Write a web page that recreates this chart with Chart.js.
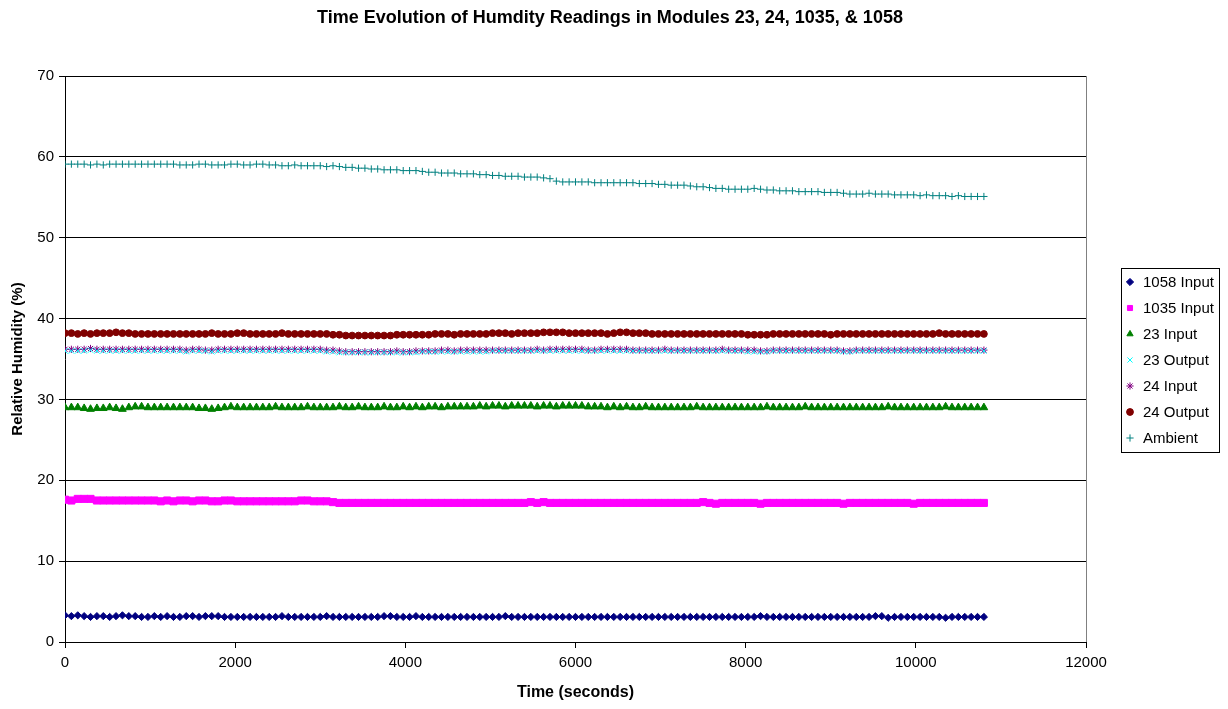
<!DOCTYPE html>
<html><head><meta charset="utf-8">
<script src="https://cdn.jsdelivr.net/npm/chart.js@4/dist/chart.umd.min.js"></script>
<style>html,body{margin:0;padding:0;background:#fff}#wrap{width:1228px;height:709px;position:relative}</style>
</head><body><div id="wrap"><canvas id="c" width="1228" height="709"></canvas></div>
<script>
const chartTitle = "Time Evolution of Humdity Readings in Modules 23, 24, 1035, & 1058";
const xAxisTitle = "Time (seconds)";
const yAxisTitle = "Relative Humidity (%)";
const seriesNames = ["1058 Input", "1035 Input", "23 Input", "23 Output", "24 Input", "24 Output", "Ambient"];
const xTickValues = [0, 2000, 4000, 6000, 8000, 10000, 12000];
const yTickValues = [0, 10, 20, 30, 40, 50, 60, 70];

const times = [
 0,75,150,225,300,375,450,525,600,675,750,825,900,975,1050,1125,
 1200,1275,1350,1425,1500,1575,1650,1725,1800,1875,1950,2025,2100,2175,2250,2325,
 2400,2475,2550,2625,2700,2775,2850,2925,3000,3075,3150,3225,3300,3375,3450,3525,
 3600,3675,3750,3825,3900,3975,4050,4125,4200,4275,4350,4425,4500,4575,4650,4725,
 4800,4875,4950,5025,5100,5175,5250,5325,5400,5475,5550,5625,5700,5775,5850,5925,
 6000,6075,6150,6225,6300,6375,6450,6525,6600,6675,6750,6825,6900,6975,7050,7125,
 7200,7275,7350,7425,7500,7575,7650,7725,7800,7875,7950,8025,8100,8175,8250,8325,
 8400,8475,8550,8625,8700,8775,8850,8925,9000,9075,9150,9225,9300,9375,9450,9525,
 9600,9675,9750,9825,9900,9975,10050,10125,10200,10275,10350,10425,10500,10575,10650,10725,
 10800];

const input1058 = [
 3.3,3.2,3.3,3.2,3.1,3.2,3.2,3.1,3.2,3.3,3.2,3.2,3.1,3.1,3.2,3.1,
 3.2,3.1,3.1,3.2,3.2,3.1,3.2,3.2,3.2,3.1,3.1,3.1,3.1,3.1,3.1,3.1,
 3.1,3.1,3.2,3.1,3.1,3.1,3.1,3.1,3.1,3.2,3.1,3.1,3.1,3.1,3.1,3.1,
 3.1,3.1,3.2,3.2,3.1,3.1,3.1,3.2,3.1,3.1,3.1,3.1,3.1,3.1,3.1,3.1,
 3.1,3.1,3.1,3.1,3.1,3.2,3.1,3.1,3.1,3.1,3.1,3.1,3.1,3.1,3.1,3.1,
 3.1,3.1,3.1,3.1,3.1,3.1,3.1,3.1,3.1,3.1,3.1,3.1,3.1,3.1,3.1,3.1,
 3.1,3.1,3.1,3.1,3.1,3.1,3.1,3.1,3.1,3.1,3.1,3.1,3.1,3.2,3.1,3.1,
 3.1,3.1,3.1,3.1,3.1,3.1,3.1,3.1,3.1,3.1,3.1,3.1,3.1,3.1,3.1,3.2,
 3.2,3.0,3.1,3.1,3.1,3.1,3.1,3.1,3.1,3.1,3.0,3.1,3.1,3.1,3.1,3.1,
 3.1];

const input1035 = [
 17.6,17.5,17.7,17.7,17.7,17.5,17.5,17.5,17.5,17.5,17.5,17.5,17.5,17.5,17.5,17.4,
 17.5,17.4,17.5,17.5,17.4,17.5,17.5,17.4,17.4,17.5,17.5,17.4,17.4,17.4,17.4,17.4,
 17.4,17.4,17.4,17.4,17.4,17.5,17.5,17.4,17.4,17.4,17.3,17.2,17.2,17.2,17.2,17.2,
 17.2,17.2,17.2,17.2,17.2,17.2,17.2,17.2,17.2,17.2,17.2,17.2,17.2,17.2,17.2,17.2,
 17.2,17.2,17.2,17.2,17.2,17.2,17.2,17.2,17.2,17.3,17.2,17.3,17.2,17.2,17.2,17.2,
 17.2,17.2,17.2,17.2,17.2,17.2,17.2,17.2,17.2,17.2,17.2,17.2,17.2,17.2,17.2,17.2,
 17.2,17.2,17.2,17.2,17.3,17.2,17.1,17.2,17.2,17.2,17.2,17.2,17.2,17.1,17.2,17.2,
 17.2,17.2,17.2,17.2,17.2,17.2,17.2,17.2,17.2,17.2,17.1,17.2,17.2,17.2,17.2,17.2,
 17.2,17.2,17.2,17.2,17.2,17.1,17.2,17.2,17.2,17.2,17.2,17.2,17.2,17.2,17.2,17.2,
 17.2];

const input23 = [
 29.0,29.0,29.0,28.9,28.8,28.9,28.9,29.0,28.9,28.8,29.0,29.1,29.1,29.0,29.0,29.0,
 29.0,29.0,29.0,29.0,29.0,28.9,28.9,28.8,28.9,29.0,29.1,29.0,29.0,29.0,29.0,29.0,
 29.0,29.1,29.0,29.0,29.0,29.0,29.1,29.0,29.0,29.0,29.0,29.1,29.0,29.0,29.1,29.0,
 29.0,29.0,29.1,29.0,29.0,29.1,29.0,29.1,29.0,29.1,29.1,29.0,29.1,29.1,29.1,29.1,
 29.1,29.2,29.1,29.2,29.2,29.1,29.2,29.2,29.2,29.2,29.1,29.2,29.2,29.1,29.2,29.2,
 29.2,29.2,29.1,29.1,29.1,29.0,29.1,29.0,29.1,29.0,29.0,29.1,29.0,29.0,29.0,29.0,
 29.0,29.0,29.0,29.1,29.0,29.0,29.0,29.0,29.0,29.0,29.0,29.0,29.0,29.0,29.1,29.0,
 29.0,29.0,29.0,29.0,29.1,29.0,29.0,29.0,29.0,29.0,29.0,29.0,29.0,29.0,29.0,29.0,
 29.0,29.1,29.0,29.0,29.0,29.0,29.0,29.0,29.0,29.0,29.1,29.0,29.0,29.0,29.0,29.0,
 29.0];

const output23 = [
 36.0,36.0,36.0,36.0,36.1,36.0,36.0,36.0,36.0,36.0,36.0,36.0,36.0,36.0,36.0,36.0,
 36.0,36.0,36.0,35.9,36.0,36.0,36.0,35.9,36.0,36.0,36.0,36.0,36.0,36.0,36.0,36.0,
 36.0,36.0,36.0,36.0,36.0,36.0,36.0,36.0,36.0,35.9,35.9,35.8,35.8,35.8,35.8,35.8,
 35.8,35.8,35.8,35.8,35.8,35.8,35.8,35.8,35.9,35.9,35.9,35.9,35.9,35.9,35.9,35.9,
 35.9,35.9,35.9,36.0,36.0,36.0,36.0,36.0,36.0,36.0,36.0,36.0,36.0,36.0,36.0,36.0,
 36.0,36.0,36.0,36.0,36.0,36.0,36.0,36.0,36.0,36.0,36.0,36.0,36.0,36.0,36.0,36.0,
 36.0,36.0,36.0,36.0,36.0,36.0,36.0,36.0,36.0,36.0,36.0,35.9,35.9,35.9,35.9,36.0,
 36.0,36.0,36.0,36.0,36.0,36.0,36.0,36.0,36.0,36.0,35.9,35.9,36.0,36.0,36.0,36.0,
 36.0,36.0,36.0,36.0,36.0,36.0,36.0,36.0,36.0,36.0,36.0,36.0,36.0,36.0,36.0,36.0,
 36.0];

const input24 = [
 36.2,36.2,36.2,36.2,36.3,36.2,36.2,36.2,36.2,36.2,36.2,36.2,36.2,36.2,36.2,36.2,
 36.2,36.2,36.2,36.1,36.2,36.2,36.1,36.1,36.2,36.2,36.2,36.2,36.2,36.2,36.2,36.2,
 36.2,36.2,36.2,36.2,36.2,36.2,36.2,36.2,36.2,36.1,36.1,36.0,35.9,35.9,35.9,35.9,
 35.9,35.9,35.9,35.9,36.0,35.9,35.9,36.0,36.0,36.0,36.0,36.1,36.1,36.0,36.1,36.1,
 36.1,36.1,36.1,36.1,36.1,36.1,36.1,36.1,36.1,36.1,36.2,36.1,36.2,36.2,36.2,36.2,
 36.2,36.2,36.1,36.1,36.2,36.2,36.2,36.2,36.2,36.1,36.1,36.1,36.1,36.1,36.2,36.1,
 36.1,36.1,36.1,36.1,36.1,36.1,36.1,36.2,36.1,36.1,36.1,36.1,36.1,36.0,36.0,36.1,
 36.1,36.1,36.1,36.1,36.1,36.1,36.1,36.1,36.1,36.1,36.0,36.0,36.1,36.1,36.1,36.1,
 36.1,36.1,36.1,36.1,36.1,36.1,36.1,36.1,36.1,36.1,36.1,36.1,36.1,36.1,36.1,36.1,
 36.1];

const output24 = [
 38.2,38.2,38.1,38.2,38.1,38.2,38.2,38.2,38.3,38.2,38.2,38.1,38.1,38.1,38.1,38.1,
 38.1,38.1,38.1,38.1,38.1,38.1,38.1,38.2,38.1,38.1,38.1,38.2,38.2,38.1,38.1,38.1,
 38.1,38.1,38.2,38.1,38.1,38.1,38.1,38.1,38.1,38.1,38.0,38.0,37.9,37.9,37.9,37.9,
 37.9,37.9,37.9,37.9,38.0,38.0,38.0,38.0,38.0,38.0,38.1,38.1,38.1,38.0,38.1,38.1,
 38.1,38.1,38.1,38.2,38.2,38.2,38.1,38.2,38.2,38.2,38.2,38.3,38.3,38.3,38.3,38.2,
 38.2,38.2,38.2,38.2,38.2,38.1,38.2,38.3,38.3,38.2,38.2,38.2,38.1,38.1,38.1,38.1,
 38.1,38.1,38.1,38.1,38.1,38.1,38.1,38.1,38.1,38.1,38.1,38.0,38.0,38.0,38.0,38.1,
 38.1,38.1,38.1,38.1,38.1,38.1,38.1,38.1,38.0,38.1,38.1,38.1,38.1,38.1,38.1,38.1,
 38.1,38.1,38.1,38.1,38.1,38.1,38.1,38.1,38.1,38.2,38.1,38.1,38.1,38.1,38.1,38.1,
 38.1];

const ambient = [
 59.1,59.1,59.1,59.1,59.0,59.1,59.0,59.1,59.1,59.1,59.1,59.1,59.1,59.1,59.1,59.1,
 59.1,59.1,59.0,59.0,59.0,59.1,59.1,59.0,59.0,59.0,59.1,59.1,59.0,59.0,59.1,59.1,
 59.0,59.0,58.9,58.9,59.0,58.9,58.9,58.9,58.9,58.8,58.9,58.8,58.7,58.7,58.6,58.6,
 58.5,58.5,58.4,58.4,58.4,58.3,58.3,58.3,58.2,58.1,58.1,58.0,58.0,58.0,57.9,57.9,
 57.9,57.8,57.8,57.7,57.7,57.6,57.6,57.6,57.5,57.5,57.5,57.4,57.3,57.0,56.9,56.9,
 56.9,56.9,56.9,56.8,56.8,56.8,56.8,56.8,56.8,56.8,56.7,56.7,56.7,56.6,56.6,56.5,
 56.5,56.5,56.4,56.3,56.3,56.2,56.1,56.1,56.0,56.0,56.0,56.0,56.1,56.0,55.9,55.9,
 55.8,55.8,55.8,55.7,55.7,55.7,55.7,55.6,55.6,55.6,55.5,55.4,55.4,55.4,55.5,55.4,
 55.4,55.4,55.3,55.3,55.3,55.3,55.2,55.3,55.2,55.2,55.2,55.1,55.2,55.1,55.1,55.1,
 55.1];

const seriesValues = [input1058, input1035, input23, output23, input24, output24, ambient];
const seriesColors = ["#000080", "#FF00FF", "#008000", "#00FFFF", "#800080", "#800000", "#008080"];
const seriesMarkers = ["rectRot", "rect", "triangle", "crossRot", "star", "circle", "cross"];
const seriesRadius = [3.6, 5, 4.4, 3.8, 3.6, 3.4, 3.6];

const FONT = "'Liberation Sans', Arial, Helvetica, sans-serif";

const datasets = seriesNames.map((name, i) => ({
  label: name,
  data: times.map((t, k) => ({ x: t, y: seriesValues[i][k] })),
  showLine: false,
  pointStyle: seriesMarkers[i],
  pointRadius: seriesRadius[i],
  pointHoverRadius: seriesRadius[i],
  pointBorderWidth: 1,
  pointBackgroundColor: seriesColors[i],
  pointBorderColor: seriesColors[i],
  backgroundColor: seriesColors[i],
  borderColor: seriesColors[i]
}));

const frame = {
  id: 'frame',
  beforeDatasetsDraw(chart) {
    const { ctx, chartArea: a } = chart;
    ctx.save();
    ctx.strokeStyle = '#808080';
    ctx.lineWidth = 1;
    ctx.beginPath();
    ctx.moveTo(Math.round(a.right) + 0.5, a.top);
    ctx.lineTo(Math.round(a.right) + 0.5, a.bottom);
    ctx.stroke();
    ctx.restore();
  }
};

const boxLegend = {
  id: 'boxLegend',
  afterDraw(chart) {
    const { ctx, chartArea: a } = chart;
    const left = a.right + 35, top = 268, w = 98, rowH = 26;
    const n = chart.data.datasets.length;
    const h = n * rowH + 2;
    ctx.save();
    ctx.fillStyle = '#fff';
    ctx.fillRect(left, top, w, h);
    ctx.strokeStyle = '#000';
    ctx.lineWidth = 1;
    ctx.strokeRect(left + 0.5, top + 0.5, w, h);
    ctx.font = "15px " + FONT;
    ctx.textBaseline = 'middle';
    ctx.textAlign = 'left';
    chart.data.datasets.forEach((ds, i) => {
      const cy = top + 14 + i * rowH;
      const cx = left + 9;
      ctx.fillStyle = ds.pointBackgroundColor;
      ctx.strokeStyle = ds.pointBorderColor;
      ctx.lineWidth = 1;
      Chart.helpers.drawPoint(ctx, { pointStyle: ds.pointStyle, radius: Math.min(ds.pointRadius, 3.6), borderWidth: 1, rotation: 0 }, cx, cy);
      ctx.fillStyle = '#000';
      ctx.fillText(ds.label, left + 22, cy + 1);
    });
    ctx.restore();
  }
};

new Chart(document.getElementById('c'), {
  type: 'scatter',
  data: { datasets },
  options: {
    responsive: false,
    animation: false,
    devicePixelRatio: 1,
    layout: { padding: { left: 0, right: 8, top: 0, bottom: 0 } },
    plugins: {
      legend: { display: false },
      tooltip: { enabled: false },
      title: {
        display: true, text: chartTitle, color: '#000',
        font: { family: FONT, size: 18, weight: 'bold' },
        padding: { top: 7, bottom: 47.4 }
      }
    },
    scales: {
      x: {
        type: 'linear', min: 0, max: 12000,
        afterFit: s => { s.height = 67; },
        afterBuildTicks: s => { s.ticks = xTickValues.map(v => ({ value: v })); },
        grid: { display: true, drawOnChartArea: false, drawTicks: true, tickLength: 6, color: '#000' },
        border: { display: true, color: '#000', width: 1 },
        ticks: { color: '#000', font: { family: FONT, size: 15 }, padding: 6, maxRotation: 0, callback: v => String(v) },
        title: { display: true, text: xAxisTitle, color: '#000', font: { family: FONT, size: 16, weight: 'bold' }, padding: { top: 0, bottom: 7 } }
      },
      y: {
        type: 'linear', min: 0, max: 70,
        afterFit: s => { s.width = 65; },
        afterBuildTicks: s => { s.ticks = yTickValues.map(v => ({ value: v })); },
        grid: { display: true, drawOnChartArea: true, drawTicks: true, tickLength: 6, color: '#000' },
        border: { display: true, color: '#000', width: 1 },
        ticks: { color: '#000', font: { family: FONT, size: 15 }, padding: 5, callback: v => String(v) },
        title: { display: true, text: yAxisTitle, color: '#000', font: { family: FONT, size: 15, weight: 'bold' }, padding: { top: 9, bottom: 0 } }
      },
      legendSpace: {
        type: 'linear', position: 'right', display: true,
        afterFit: s => { s.width = 134; },
        grid: { display: false, drawTicks: false },
        border: { display: false },
        ticks: { display: false },
        title: { display: false }
      }
    }
  },
  plugins: [frame, boxLegend]
});
</script></body></html>
